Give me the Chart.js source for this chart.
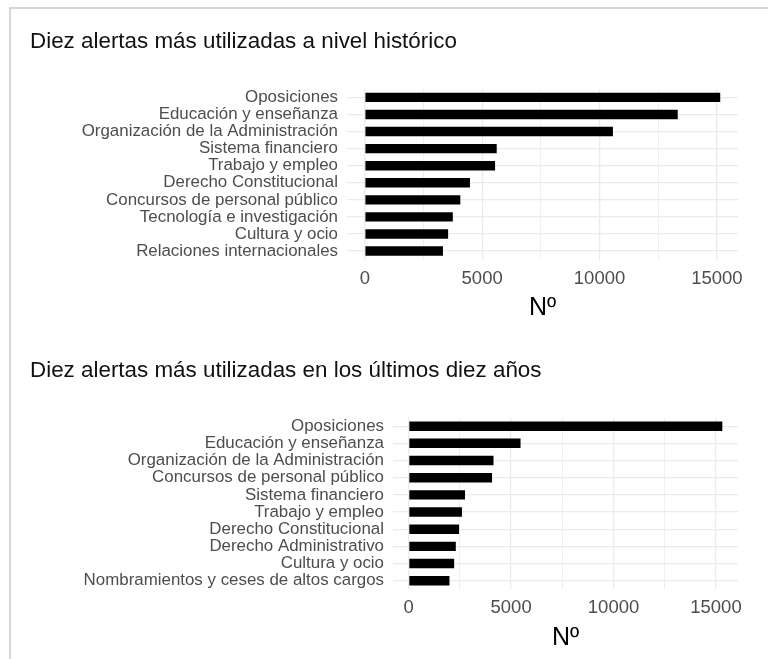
<!DOCTYPE html>
<html>
<head>
<meta charset="utf-8">
<script src="https://cdn.jsdelivr.net/npm/chart.js@4"></script>
<style>
  html, body { margin: 0; padding: 0; background: #fff; }
  body { width: 768px; height: 659px; position: relative; overflow: hidden; font-family: "Liberation Sans", Arial, sans-serif; }
  .frame { position: absolute; left: 9px; top: 7px; width: 800px; height: 700px; border-top: 2px solid #d6d6d6; border-left: 2px solid #d6d6d6; }
  .box { position: absolute; left: 0; width: 768px; }
  #boxHist { top: 0; height: 330px; }
  #boxDiez { top: 330px; height: 329px; }
</style>
</head>
<body>
<div class="frame"></div>
<div class="box" id="boxHist"><canvas id="chartHist"></canvas></div>
<div class="box" id="boxDiez"><canvas id="chartDiez"></canvas></div>
<script>
// --- Datos ---
const catsHist = [
  "Oposiciones", "Educación y enseñanza", "Organización de la Administración",
  "Sistema financiero", "Trabajo y empleo", "Derecho Constitucional",
  "Concursos de personal público", "Tecnología e investigación",
  "Cultura y ocio", "Relaciones internacionales"
];
const valsHist = [15140, 13330, 10570, 5620, 5550, 4480, 4070, 3750, 3550, 3330];

const catsDiez = [
  "Oposiciones", "Educación y enseñanza", "Organización de la Administración",
  "Concursos de personal público", "Sistema financiero", "Trabajo y empleo",
  "Derecho Constitucional", "Derecho Administrativo", "Cultura y ocio",
  "Nombramientos y ceses de altos cargos"
];
const valsDiez = [15310, 5460, 4140, 4070, 2750, 2600, 2460, 2300, 2220, 1990];

// lineas de rejilla (mayores + menores) y etiquetas del eje x
const xGridValues = [0, 2500, 5000, 7500, 10000, 12500, 15000];
const xTickLabels = [0, 5000, 10000, 15000];

const FONT = "'Liberation Sans', Arial, sans-serif";

function makeChart(id, title, labels, values, opts) {
  const maxVal = Math.max(...values);
  const pad = maxVal * 0.05; // expansion tipo ggplot
  return new Chart(document.getElementById(id), {
    type: 'bar',
    data: {
      labels: labels,
      datasets: [{
        data: values,
        backgroundColor: '#000000',
        barPercentage: 0.55,
        categoryPercentage: 1
      }]
    },
    options: {
      indexAxis: 'y',
      responsive: true,
      maintainAspectRatio: false,
      animation: false,
      layout: { padding: { left: 30, right: 30, top: 0, bottom: opts.padBottom } },
      plugins: {
        legend: { display: false },
        tooltip: { enabled: false },
        title: {
          display: true,
          text: title,
          align: 'start',
          color: '#111111',
          font: { family: FONT, size: 22.4, weight: 'normal' },
          padding: { top: opts.titleTop, bottom: opts.titleGap }
        }
      },
      scales: {
        x: {
          type: 'linear',
          min: -pad,
          max: maxVal + pad,
          border: { display: false },
          grid: {
            color: '#ebebeb',
            drawTicks: false,
            lineWidth: c => (c.tick && xTickLabels.includes(c.tick.value)) ? 1.3 : 0.8
          },
          afterBuildTicks: s => { s.ticks = xGridValues.map(v => ({ value: v })); },
          ticks: {
            autoSkip: false,
            maxRotation: 0,
            padding: 8,
            color: '#4d4d4d',
            font: { family: FONT, size: 18.5 },
            callback: v => xTickLabels.includes(v) ? String(v) : ''
          },
          title: {
            display: true,
            text: 'Nº',
            color: '#000000',
            font: { family: FONT, size: 25 },
            padding: 0
          },
          afterFit: s => { s.height = opts.xHeight; }
        },
        y: {
          border: { display: false },
          grid: { color: '#ebebeb', lineWidth: 1.3, offset: false, drawTicks: false },
          ticks: {
            padding: 9,
            autoSkip: false,
            color: '#4d4d4d',
            font: { family: FONT, size: 16.9 }
          },
          afterFit: s => { s.width = opts.yWidth; }
        }
      }
    }
  });
}

makeChart('chartHist', 'Diez alertas más utilizadas a nivel histórico', catsHist, valsHist,
  { yWidth: 317, xHeight: 63.4, padBottom: 7, titleTop: 28, titleGap: 34 });
makeChart('chartDiez', 'Diez alertas más utilizadas en los últimos diez años', catsDiez, valsDiez,
  { yWidth: 363, xHeight: 63.7, padBottom: 6, titleTop: 27, titleGap: 33.7 });
</script>
</body>
</html>
